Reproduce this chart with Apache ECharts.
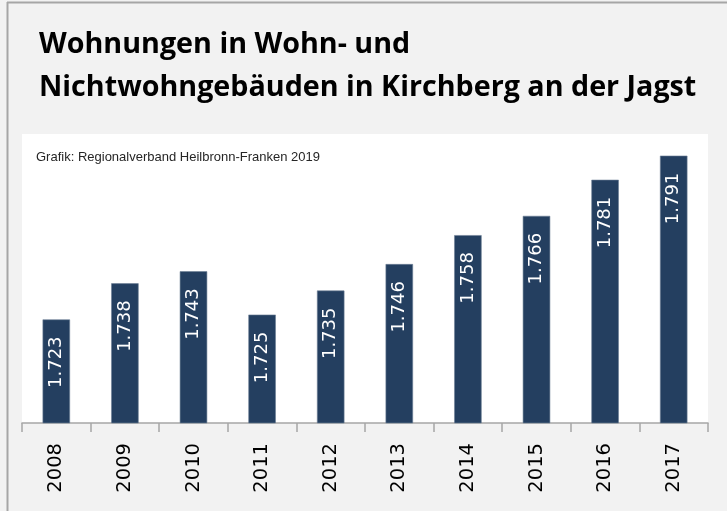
<!DOCTYPE html>
<html lang="de">
<head>
<meta charset="UTF-8">
<title>Wohnungen Kirchberg an der Jagst</title>
<style>
  html, body { margin: 0; padding: 0; background: #f2f2f2; }
  #main { width: 727px; height: 511px; }
</style>
</head>
<body>
<div id="main"></div>
<script src="https://cdn.jsdelivr.net/npm/echarts@6/dist/echarts.min.js"></script>
<script>
// Daten
const jahre = ['2008', '2009', '2010', '2011', '2012', '2013', '2014', '2015', '2016', '2017'];
const wohnungen = [1723, 1738, 1743, 1725, 1735, 1746, 1758, 1766, 1781, 1791];
const titelZeilen = ['Wohnungen in Wohn- und', 'Nichtwohngebäuden in Kirchberg an der Jagst'];
const quelle = 'Grafik: Regionalverband Heilbronn-Franken 2019';

const chart = echarts.init(document.getElementById('main'));

// 1.723 statt 1723
function tausender(v) {
  return String(v).replace(/\B(?=(\d{3})+(?!\d))/g, '.');
}

const option = {
  animation: false,
  backgroundColor: '#f2f2f2',
  title: [
    {
      text: titelZeilen.join('\n'),
      left: 34,
      top: 18,
      textStyle: {
        fontFamily: 'Open Sans',
        fontWeight: 'bold',
        fontSize: 28.7,
        lineHeight: 43,
        color: '#000'
      }
    },
    {
      text: quelle,
      left: 31,
      top: 146,
      textStyle: {
        fontFamily: 'Liberation Sans',
        fontWeight: 'normal',
        fontSize: 13,
        color: '#262626'
      }
    }
  ],
  graphic: [
    { type: 'line', shape: { x1: 7.5, y1: 2, x2: 7.5, y2: 511 }, style: { stroke: '#a6a6a6', lineWidth: 2 } },
    { type: 'line', shape: { x1: 7, y1: 2.5, x2: 727, y2: 2.5 }, style: { stroke: '#a6a6a6', lineWidth: 2 } }
  ],
  grid: {
    left: 22,
    right: 19,
    top: 134,
    bottom: 88,
    show: true,
    backgroundColor: '#ffffff',
    borderWidth: 0
  },
  xAxis: {
    type: 'category',
    data: jahre,
    axisLine: { lineStyle: { color: '#a6a6a6', width: 1.5 } },
    axisTick: { show: true, length: 9, lineStyle: { color: '#a6a6a6', width: 1.5 } },
    axisLabel: {
      rotate: 90,
      margin: 20,
      fontFamily: 'DejaVu Sans',
      fontSize: 19.5,
      color: '#000'
    }
  },
  yAxis: {
    type: 'value',
    min: 1680,
    max: 1800,
    show: false,
    splitLine: { show: false }
  },
  series: [
    {
      type: 'bar',
      data: wohnungen,
      barWidth: '40%',
      itemStyle: { color: '#243f60', borderColor: '#6d7f96', borderWidth: 0.6 },
      label: {
        show: true,
        position: 'insideTop',
        rotate: 90,
        align: 'right',
        verticalAlign: 'middle',
        distance: 17,
        fontFamily: 'DejaVu Sans',
        fontSize: 18,
        color: '#ffffff',
        formatter: p => tausender(p.value)
      }
    }
  ]
};

chart.setOption(option);
</script>
</body>
</html>
